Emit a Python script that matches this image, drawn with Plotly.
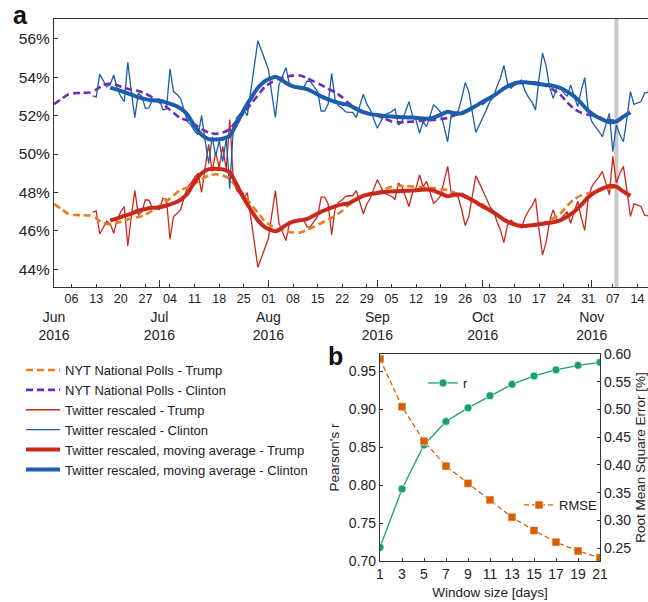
import pandas as pd
import plotly.graph_objects as go

START = pd.Timestamp("2016-06-01")
ELECTION_DAY = "2016-11-08"
X_END_DAY = 169

# ---- Panel a data (days since 2016-06-01) ----
poll_days = list(range(0, 161, 2))
poll_clinton = [52.60, 52.85, 53.10, 53.17, 53.18, 53.20, 53.35, 53.60, 53.65, 53.58,
                53.45, 53.35, 53.28, 53.15, 52.95, 52.70, 52.45, 52.15, 51.86, 51.75,
                51.55, 51.30, 51.12, 51.05, 51.12, 51.30, 51.75, 52.12, 52.60, 53.05,
                53.50, 53.75, 53.92, 54.03, 54.08, 54.09, 53.95, 53.77, 53.60, 53.40,
                53.22, 52.95, 52.62, 52.40, 52.20, 52.10, 52.00, 51.85, 51.70, 51.65,
                51.67, 51.69, 51.72, 51.75, 51.77, 51.82, 51.88, 52.02, 52.17, 52.33,
                52.50, 52.62, 52.95, 53.15, 53.40, 53.55, 53.68, 53.74, 53.74, 53.70,
                53.55, 53.35, 53.10, 52.70, 52.35, 52.15, 52.05, 51.98, 51.85, 51.77,
                51.74]
poll_trump = [47.40, 47.15, 46.90, 46.83, 46.82, 46.80, 46.65, 46.40, 46.35, 46.42,
              46.55, 46.65, 46.72, 46.85, 47.05, 47.30, 47.55, 47.85, 48.14, 48.25,
              48.45, 48.70, 48.88, 48.95, 48.88, 48.70, 48.25, 47.88, 47.40, 46.95,
              46.50, 46.25, 46.08, 45.97, 45.92, 45.91, 46.05, 46.23, 46.40, 46.60,
              46.78, 47.05, 47.38, 47.60, 47.80, 47.90, 48.00, 48.15, 48.30, 48.35,
              48.33, 48.31, 48.28, 48.25, 48.23, 48.18, 48.12, 47.98, 47.83, 47.67,
              47.50, 47.38, 47.05, 46.85, 46.60, 46.45, 46.32, 46.26, 46.26, 46.30,
              46.45, 46.65, 46.90, 47.30, 47.65, 47.85, 47.95, 48.02, 48.15, 48.23,
              48.26]

twitter_days = list(range(11, 170))
twitter_clinton = [
    53.03, 52.96, 54.16, 53.80, 53.50, 53.63, 54.12, 53.40, 53.00, 52.73,
    54.78, 53.25, 51.90, 53.17, 53.00, 52.38, 52.40, 52.82, 52.85, 52.87,
    52.30, 52.35, 54.43, 53.25, 53.10, 52.90, 52.30, 51.69, 51.51, 51.20,
    51.00, 52.00, 50.70, 49.50, 50.90, 49.90, 50.70, 49.60, 50.80, 48.20,
    51.30, 51.90, 52.10, 52.30, 52.00, 53.30, 54.60, 55.90, 55.40, 54.90,
    54.40, 53.10, 51.90, 53.60, 54.10, 54.50, 53.60, 53.55, 53.50, 53.45,
    53.43, 53.80, 53.77, 53.50, 53.25, 52.24, 52.24, 52.60, 54.20, 52.82,
    52.50, 52.38, 52.20, 52.17, 52.17, 51.90, 52.50, 53.11, 52.60, 52.30,
    51.80, 51.34, 51.70, 52.03, 52.12, 52.20, 52.35, 51.51, 51.69, 52.20,
    52.73, 52.00, 51.77, 51.08, 51.69, 51.43, 52.00, 52.56, 52.40, 52.17,
    51.40, 50.64, 52.03, 52.10, 52.24, 52.90, 53.72, 53.25, 52.20, 51.13,
    51.50, 51.95, 52.30, 52.73, 52.95, 53.50, 53.95, 54.61, 53.70, 53.43,
    53.60, 53.70, 53.85, 53.30, 52.95, 52.70, 52.30, 53.95, 55.25, 54.60,
    53.50, 52.90, 53.40, 53.47, 53.20, 53.00, 53.60, 53.00, 52.47, 53.30,
    53.98, 52.30, 51.70, 51.43, 51.20, 50.90, 51.50, 52.12, 50.12, 51.51,
    51.00, 50.64, 51.86, 53.25, 52.59, 52.65, 52.73, 53.17, 53.22]
twitter_trump = [
    46.97, 47.04, 45.84, 46.20, 46.50, 46.37, 45.88, 46.60, 47.00, 47.27,
    45.22, 46.75, 48.10, 46.83, 47.00, 47.62, 47.60, 47.18, 47.15, 47.13,
    47.70, 47.65, 45.57, 46.75, 46.90, 47.10, 47.70, 48.31, 48.49, 48.80,
    49.00, 48.00, 49.30, 50.50, 49.10, 50.10, 49.30, 50.40, 49.20, 51.80,
    48.70, 48.10, 47.90, 47.70, 48.00, 46.70, 45.40, 44.10, 44.60, 45.10,
    45.60, 46.90, 48.10, 46.40, 45.90, 45.50, 46.40, 46.45, 46.50, 46.55,
    46.57, 46.20, 46.23, 46.50, 46.75, 47.76, 47.76, 47.40, 45.80, 47.18,
    47.50, 47.62, 47.80, 47.83, 47.83, 48.10, 47.50, 46.89, 47.40, 47.70,
    48.20, 48.66, 48.30, 47.97, 47.88, 47.80, 47.65, 48.49, 48.31, 47.80,
    47.27, 48.00, 48.23, 48.92, 48.31, 48.57, 48.00, 47.44, 47.60, 47.83,
    48.60, 49.36, 47.97, 47.90, 47.76, 47.10, 46.28, 46.75, 47.80, 48.87,
    48.50, 48.05, 47.70, 47.27, 47.05, 46.50, 46.05, 45.39, 46.30, 46.57,
    46.40, 46.30, 46.15, 46.70, 47.05, 47.30, 47.70, 46.05, 44.75, 45.40,
    46.50, 47.10, 46.60, 46.53, 46.80, 47.00, 46.40, 47.00, 47.53, 46.70,
    46.02, 47.70, 48.30, 48.57, 48.80, 49.10, 48.50, 47.88, 49.88, 48.49,
    49.00, 49.36, 48.14, 46.75, 47.41, 47.35, 47.27, 46.83, 46.78]

ma_days = [16, 18, 20, 22, 24, 26, 28, 30, 32, 34, 36, 38, 40, 42, 44, 46, 48, 50,
           52, 53, 54, 56, 58, 60, 62, 63, 64, 66, 68, 70, 72, 74, 76, 78, 80, 82,
           84, 86, 88, 90, 92, 94, 96, 98, 100, 102, 104, 106, 108, 110, 112, 114,
           116, 118, 120, 122, 124, 126, 128, 130, 132, 134, 136, 138, 140, 142,
           144, 146, 148, 150, 152, 154, 156, 158, 160, 162, 164]
ma_clinton = [53.46, 53.35, 53.22, 53.10, 52.95, 52.86, 52.80, 52.77, 52.68, 52.56,
              52.38, 52.05, 51.45, 51.00, 50.78, 50.76, 50.80, 50.95, 51.60, 51.95,
              52.30, 52.90, 53.45, 53.80, 53.97, 54.02, 53.95, 53.70, 53.52, 53.45,
              53.38, 53.20, 53.00, 52.85, 52.72, 52.62, 52.55, 52.35, 52.18, 52.08,
              52.03, 51.98, 51.95, 51.93, 51.91, 51.90, 51.87, 51.84, 51.90, 52.05,
              52.20, 52.12, 52.12, 52.30, 52.50, 52.73, 52.92, 53.15, 53.42, 53.60,
              53.72, 53.74, 53.70, 53.65, 53.60, 53.55, 53.45, 53.25, 53.00, 52.65,
              52.25, 51.98, 51.80, 51.66, 51.70, 51.95, 52.17]
ma_trump = [46.54, 46.65, 46.78, 46.90, 47.05, 47.14, 47.20, 47.23, 47.32, 47.44,
            47.62, 47.95, 48.55, 49.00, 49.22, 49.24, 49.20, 49.05, 48.40, 48.05,
            47.70, 47.10, 46.55, 46.20, 46.03, 45.98, 46.05, 46.30, 46.48, 46.55,
            46.62, 46.80, 47.00, 47.15, 47.28, 47.38, 47.45, 47.65, 47.82, 47.92,
            47.97, 48.02, 48.05, 48.07, 48.09, 48.10, 48.13, 48.16, 48.10, 47.95,
            47.80, 47.88, 47.88, 47.70, 47.50, 47.27, 47.08, 46.85, 46.58, 46.40,
            46.28, 46.26, 46.30, 46.35, 46.40, 46.45, 46.55, 46.75, 47.00, 47.35,
            47.75, 48.02, 48.20, 48.34, 48.30, 48.05, 47.83]

week_ticks = ["2016-06-06", "2016-06-13", "2016-06-20", "2016-06-27", "2016-07-04",
              "2016-07-11", "2016-07-18", "2016-07-25", "2016-08-01", "2016-08-08",
              "2016-08-15", "2016-08-22", "2016-08-29", "2016-09-05", "2016-09-12",
              "2016-09-19", "2016-09-26", "2016-10-03", "2016-10-10", "2016-10-17",
              "2016-10-24", "2016-10-31", "2016-11-07", "2016-11-14"]
week_labels = ["06", "13", "20", "27", "04", "11", "18", "25", "01", "08", "15", "22",
               "29", "05", "12", "19", "26", "03", "10", "17", "24", "31", "07", "14"]
month_ticks = ["2016-06-01", "2016-07-01", "2016-08-01", "2016-09-01", "2016-10-01",
               "2016-11-01"]
month_labels = ["Jun<br>2016", "Jul<br>2016", "Aug<br>2016", "Sep<br>2016",
                "Oct<br>2016", "Nov<br>2016"]
y_ticks = [44, 46, 48, 50, 52, 54, 56]
y_labels = ["44%", "46%", "48%", "50%", "52%", "54%", "56%"]

# ---- Panel b data ----
window_sizes = [1, 3, 5, 7, 9, 11, 13, 15, 17, 19, 21]
pearson_r = [0.718, 0.795, 0.853, 0.884, 0.902, 0.918, 0.933, 0.944, 0.952, 0.958, 0.962]
rmse = [0.591, 0.505, 0.443, 0.398, 0.367, 0.337, 0.306, 0.282, 0.261, 0.245, 0.233]
r_ticks = [0.70, 0.75, 0.80, 0.85, 0.90, 0.95]
rmse_ticks = [0.25, 0.30, 0.35, 0.40, 0.45, 0.50, 0.55, 0.60]


def to_dates(days):
    return [START + pd.Timedelta(days=d) for d in days]


C_BLUE = "#1c5eab"
C_RED = "#c9281c"
C_PURPLE = "#6f2db3"
C_ORANGE = "#ee7a1f"
C_GREEN = "#1b9e77"
C_RMSE = "#d95f02"
AX = "#333333"
FONT = "Liberation Sans, Arial, sans-serif"

fig = go.Figure()

fig.add_trace(go.Scatter(x=to_dates(twitter_days), y=twitter_trump, mode="lines",
                         name="Twitter rescaled - Trump", legendrank=3,
                         line=dict(color=C_RED, width=1.3)))
fig.add_trace(go.Scatter(x=to_dates(twitter_days), y=twitter_clinton, mode="lines",
                         name="Twitter rescaled - Clinton", legendrank=4,
                         line=dict(color=C_BLUE, width=1.3)))
fig.add_trace(go.Scatter(x=to_dates(poll_days), y=poll_trump, mode="lines",
                         name="NYT National Polls - Trump", legendrank=1,
                         line=dict(color=C_ORANGE, width=2.6, dash="7px,4px",
                                   shape="spline", smoothing=0.6)))
fig.add_trace(go.Scatter(x=to_dates(poll_days), y=poll_clinton, mode="lines",
                         name="NYT National Polls - Clinton", legendrank=2,
                         line=dict(color=C_PURPLE, width=2.6, dash="7px,4px",
                                   shape="spline", smoothing=0.6)))
fig.add_trace(go.Scatter(x=to_dates(ma_days), y=ma_trump, mode="lines",
                         name="Twitter rescaled, moving average - Trump", legendrank=5,
                         line=dict(color=C_RED, width=4.0, shape="spline", smoothing=0.5)))
fig.add_trace(go.Scatter(x=to_dates(ma_days), y=ma_clinton, mode="lines",
                         name="Twitter rescaled, moving average - Clinton", legendrank=6,
                         line=dict(color=C_BLUE, width=4.0, shape="spline", smoothing=0.5)))

# month axis helper (empty trace so the overlay axis is drawn)
fig.add_trace(go.Scatter(x=[], y=[], xaxis="x2", yaxis="y", showlegend=False,
                         hoverinfo="skip"))

# Panel b
fig.add_trace(go.Scatter(x=window_sizes, y=pearson_r, mode="lines+markers", name="r",
                         xaxis="x3", yaxis="y3", legend="legend2",
                         line=dict(color=C_GREEN, width=1.3),
                         marker=dict(symbol="circle", size=8, color=C_GREEN,
                                     line=dict(color="white", width=0.6))))
fig.add_trace(go.Scatter(x=window_sizes, y=rmse, mode="lines+markers", name="RMSE",
                         xaxis="x3", yaxis="y4", legend="legend3",
                         line=dict(color=C_RMSE, width=1.3, dash="5px,3px"),
                         marker=dict(symbol="square", size=8, color=C_RMSE,
                                     line=dict(color="white", width=0.6))))

W, H = 648, 602
x_end = START + pd.Timedelta(days=X_END_DAY)

axis_common = dict(showgrid=False, zeroline=False, showline=True, linecolor=AX,
                   linewidth=1.2, ticks="inside", tickcolor=AX, automargin=False)

fig.update_layout(
    width=W, height=H, autosize=False,
    margin=dict(l=0, r=0, t=0, b=0, pad=0, autoexpand=False),
    paper_bgcolor="white", plot_bgcolor="white",
    font=dict(family=FONT, color="#222222", size=13),
    xaxis=dict(**axis_common, domain=[54 / W, 1.0], anchor="y", mirror=True,
               type="date", range=[START, x_end], tickvals=week_ticks,
               ticktext=week_labels, ticklen=3, tickfont=dict(size=12.5)),
    xaxis2=dict(overlaying="x", anchor="y", side="bottom", type="date",
                range=[START, x_end],
                showgrid=False, zeroline=False, showline=False, automargin=False,
                ticks="inside", ticklen=7, tickcolor=AX,
                tickvals=month_ticks, ticktext=month_labels,
                tickfont=dict(size=14), ticklabelstandoff=20),
    yaxis=dict(**axis_common, domain=[1 - 287 / H, 1 - 19 / H], anchor="x", mirror=True,
               range=[43.08, 57.03], tickvals=y_ticks, ticktext=y_labels, ticklen=4,
               tickfont=dict(size=15.5)),
    xaxis3=dict(**axis_common, domain=[380 / W, 600 / W], anchor="y3", mirror=True,
                range=[1, 21], tickvals=window_sizes, ticklen=3,
                tickfont=dict(size=14),
                title=dict(text="Window size [days]", font=dict(size=13.5), standoff=6)),
    yaxis3=dict(**axis_common, domain=[1 - 561 / H, 1 - 354 / H], anchor="x3",
                range=[0.70, 0.973], tickvals=r_ticks,
                tickformat=".2f", ticklen=3, tickfont=dict(size=14),
                title=dict(text="Pearson's r", font=dict(size=13.5), standoff=6)),
    yaxis4=dict(**axis_common, overlaying="y3", anchor="x3", side="right",
                range=[0.227, 0.60], tickvals=rmse_ticks,
                tickformat=".2f", ticklen=3, tickfont=dict(size=14),
                title=dict(text="Root Mean Square Error [%]", font=dict(size=13.5),
                           standoff=6)),
    legend=dict(x=21 / W, y=1 - 355 / H, xanchor="left", yanchor="top",
                bgcolor="rgba(0,0,0,0)", borderwidth=0, font=dict(size=13),
                traceorder="normal", itemwidth=34),
    legend2=dict(x=423 / W, y=1 - 383 / H, xanchor="left", yanchor="middle",
                 bgcolor="rgba(0,0,0,0)", font=dict(size=13)),
    legend3=dict(x=519 / W, y=1 - 505 / H, xanchor="left", yanchor="middle",
                 bgcolor="rgba(0,0,0,0)", font=dict(size=13)),
    shapes=[dict(type="line", xref="x", yref="y domain", x0=ELECTION_DAY,
                 x1=ELECTION_DAY, y0=0, y1=1, layer="below",
                 line=dict(color="#c8c8c8", width=4))],
    annotations=[
        dict(text="<b>a</b>", xref="paper", yref="paper", x=20 / W, y=1 - 15 / H,
             xanchor="center", yanchor="middle", showarrow=False,
             font=dict(size=25, color="#111111")),
        dict(text="<b>b</b>", xref="paper", yref="paper", x=335 / W, y=1 - 356 / H,
             xanchor="center", yanchor="middle", showarrow=False,
             font=dict(size=25, color="#111111")),
    ],
    showlegend=True,
)

fig.write_html("out.html", config={"displayModeBar": False},
               post_script="document.body.style.margin='0px';")
